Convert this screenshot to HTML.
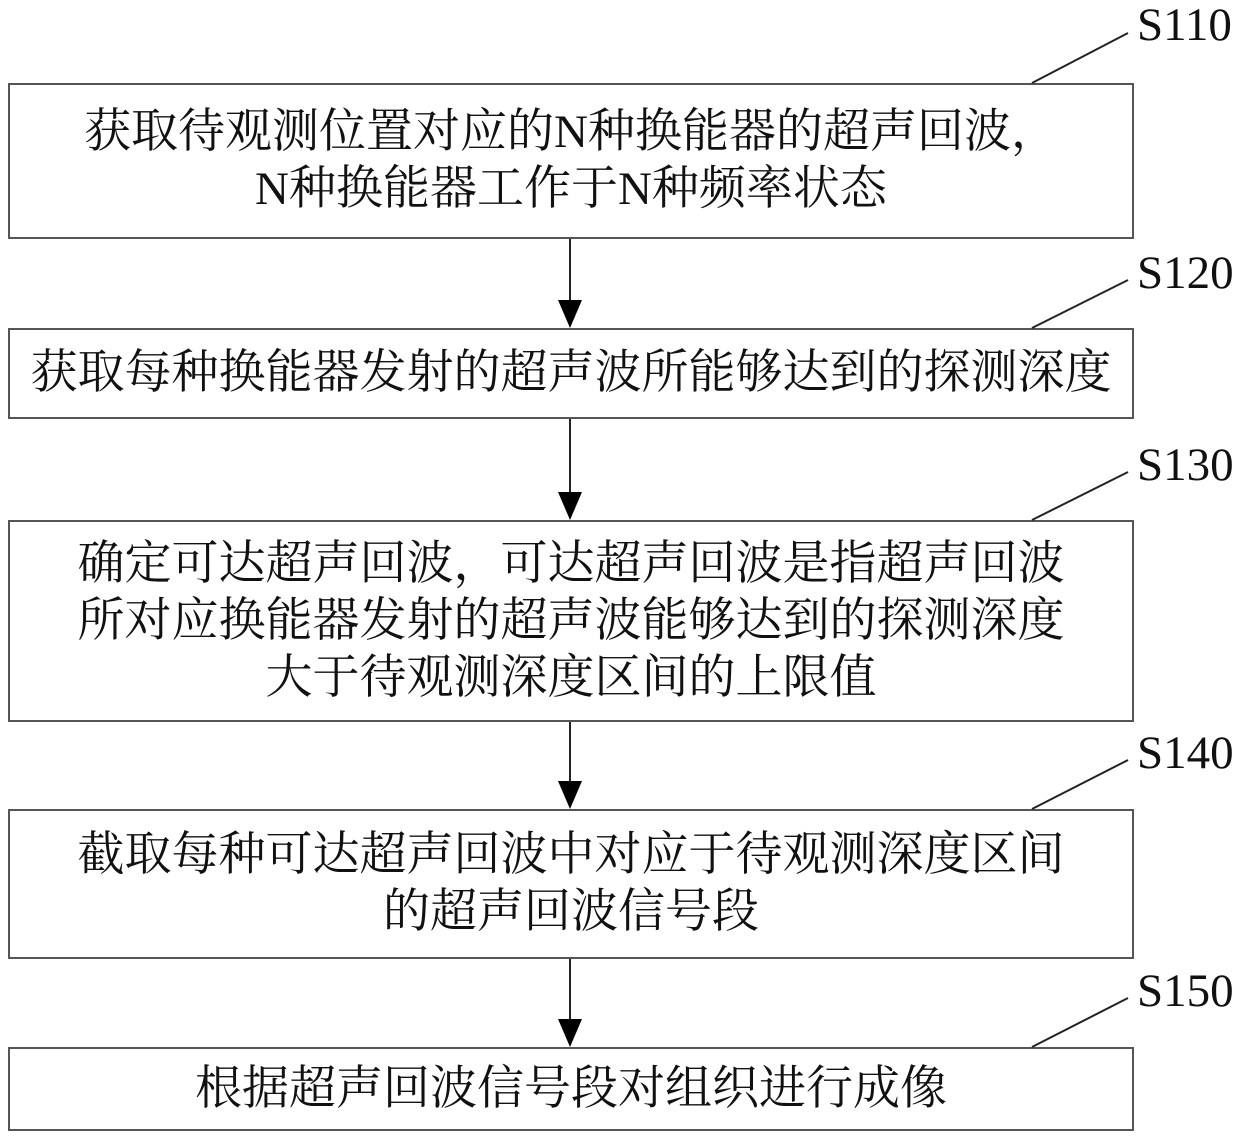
<!DOCTYPE html>
<html><head><meta charset="utf-8"><style>
body{margin:0;background:#fff;width:1240px;height:1142px;position:relative;overflow:hidden;font-family:"Liberation Serif","Noto Serif CJK SC","Noto Sans CJK SC",serif;}
.b{position:absolute;left:8px;width:1126px;border:2px solid #555;box-sizing:border-box;display:flex;align-items:center;justify-content:center;text-align:center;font-size:47px;line-height:57px;color:#111;}
.l{position:absolute;left:1137px;font-size:47px;color:#111;}
</style></head><body>
<div class="b" style="top:83px;height:156px">获取待观测位置对应的N种换能器的超声回波，<br>N种换能器工作于N种频率状态</div>
<div class="b" style="top:328px;height:91px">获取每种换能器发射的超声波所能够达到的探测深度</div>
<div class="b" style="top:520px;height:202px">确定可达超声回波，可达超声回波是指超声回波<br>所对应换能器发射的超声波能够达到的探测深度<br>大于待观测深度区间的上限值</div>
<div class="b" style="top:809px;height:150px">截取每种可达超声回波中对应于待观测深度区间<br>的超声回波信号段</div>
<div class="b" style="top:1047px;height:84px">根据超声回波信号段对组织进行成像</div>
<div class="l" style="top:-2px">S110</div>
<div class="l" style="top:246px">S120</div>
<div class="l" style="top:438px">S130</div>
<div class="l" style="top:726px">S140</div>
<div class="l" style="top:964px">S150</div>
<svg width="1240" height="1142" style="position:absolute;left:0;top:0">
<g stroke="#222" stroke-width="2">
<line x1="1032" y1="83" x2="1128" y2="33"/>
<line x1="1032" y1="328" x2="1128" y2="280"/>
<line x1="1032" y1="520" x2="1128" y2="472"/>
<line x1="1032" y1="809" x2="1128" y2="760"/>
<line x1="1032" y1="1047" x2="1128" y2="998"/>
<line x1="570" y1="239" x2="570" y2="305"/>
<line x1="570" y1="419" x2="570" y2="497"/>
<line x1="570" y1="722" x2="570" y2="786"/>
<line x1="570" y1="959" x2="570" y2="1024"/>
</g>
<g fill="#000">
<polygon points="558,300 582,300 570,328"/>
<polygon points="558,492 582,492 570,520"/>
<polygon points="558,781 582,781 570,809"/>
<polygon points="558,1019 582,1019 570,1047"/>
</g>
</svg>
</body></html>
